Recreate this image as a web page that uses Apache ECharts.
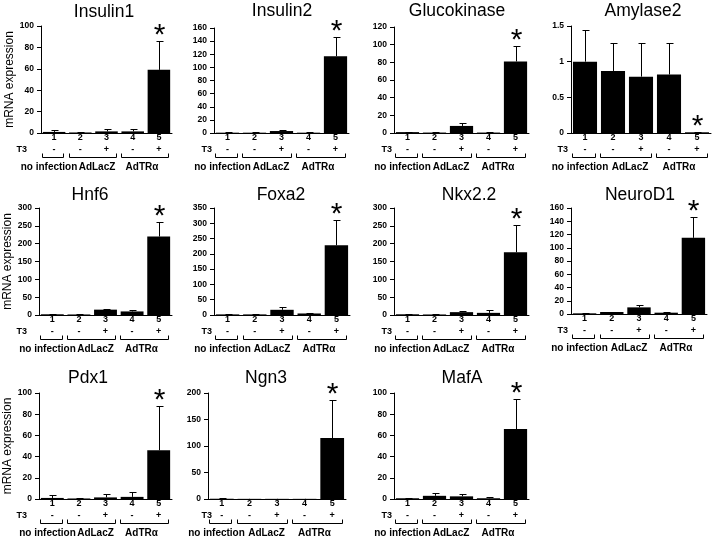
<!DOCTYPE html>
<html>
<head>
<meta charset="utf-8">
<script src="https://cdn.jsdelivr.net/npm/echarts@6/dist/echarts.min.js"></script>
<style>
  html, body { margin: 0; padding: 0; background: #fff; }
  #chart { width: 713px; height: 537px; }
</style>
</head>
<body>
<div id="chart"></div>
<script>
const categories = ['1', '2', '3', '4', '5'];
const t3Signs = ['-', '-', '+', '-', '+'];
const groupNames = ['no infection', 'AdLacZ', 'AdTRα'];
const groupStart = [0, 1, 3];
const groupEnd = [0, 2, 4];
const starred = [false, false, false, false, true];

const geneNames = ['Insulin1', 'Insulin2', 'Glucokinase', 'Amylase2', 'Hnf6', 'Foxa2',
  'Nkx2.2', 'NeuroD1', 'Pdx1', 'Ngn3', 'MafA'];
const yMax = [100, 160, 120, 1.5, 300, 350, 300, 160, 100, 200, 100];
const yStep = [20, 20, 20, 0.5, 50, 50, 50, 20, 20, 50, 20];

const insulin1Mean = [1, 0.5, 1.5, 1.5, 59];
const insulin1Err = [1.5, 0.4, 2.5, 2, 27];
const insulin2Mean = [0.5, 0.5, 3, 0.5, 117];
const insulin2Err = [0.4, 0.3, 1.5, 0.3, 30];
const glucokinaseMean = [1, 0.5, 8, 0.5, 81];
const glucokinaseErr = [0.5, 0.3, 3.5, 0.3, 18];
const amylase2Mean = [1.0, 0.87, 0.79, 0.82, 0.01];
const amylase2Err = [0.45, 0.39, 0.47, 0.44, 0];
const hnf6Mean = [2, 1.5, 15, 10, 220];
const hnf6Err = [0.5, 0.5, 2, 3, 42];
const foxa2Mean = [2, 2, 17, 5, 228];
const foxa2Err = [0.5, 0.5, 9, 2, 84];
const nkx22Mean = [2, 1.5, 8, 6, 176];
const nkx22Err = [0.5, 0.5, 4, 8, 75];
const neuroD1Mean = [1, 3, 10, 2, 115];
const neuroD1Err = [0.3, 0.5, 3, 1, 32];
const pdx1Mean = [1, 0.5, 1.5, 2, 46];
const pdx1Err = [3, 0.3, 3, 4.5, 42];
const ngn3Mean = [0.5, 0.3, 0.3, 0.3, 115];
const ngn3Err = [1, 0.2, 0.2, 0.2, 72];
const mafAMean = [0.7, 3, 2.5, 0.7, 66];
const mafAErr = [0.5, 2.5, 2, 0.8, 28];

const meanSets = [insulin1Mean, insulin2Mean, glucokinaseMean, amylase2Mean, hnf6Mean, foxa2Mean,
  nkx22Mean, neuroD1Mean, pdx1Mean, ngn3Mean, mafAMean];
const errSets = [insulin1Err, insulin2Err, glucokinaseErr, amylase2Err, hnf6Err, foxa2Err,
  nkx22Err, neuroD1Err, pdx1Err, ngn3Err, mafAErr];

// pixel boxes of each small panel (plot area), title centre and "T3" right edge
const panelBoxes = [
  { left: 41, top: 26, right: 172, bottom: 133, titleX: 104, titleY: 12, t3X: 27 },
  { left: 214, top: 28, right: 349, bottom: 133, titleX: 282, titleY: 11, t3X: 212 },
  { left: 394, top: 27, right: 529, bottom: 133, titleX: 457, titleY: 11, t3X: 392 },
  { left: 571, top: 26, right: 711, bottom: 133, titleX: 643, titleY: 11, t3X: 568 },
  { left: 39, top: 208, right: 172, bottom: 315, titleX: 90, titleY: 195, t3X: 27 },
  { left: 214, top: 208, right: 350, bottom: 315, titleX: 281, titleY: 195, t3X: 212 },
  { left: 394, top: 208, right: 529, bottom: 315, titleX: 469, titleY: 195, t3X: 392 },
  { left: 571, top: 208, right: 707, bottom: 314, titleX: 640, titleY: 195, t3X: 568 },
  { left: 39, top: 393, right: 172, bottom: 499, titleX: 88, titleY: 378, t3X: 27 },
  { left: 208, top: 393, right: 346, bottom: 499, titleX: 266, titleY: 378, t3X: 212 },
  { left: 394, top: 393, right: 529, bottom: 499, titleX: 462, titleY: 378, t3X: 392 },
];
const yNamePanels = [0, 4, 8];
// horizontal nudge of each group label from its bracket centre, in px
const groupLabelShift = [-4, 4, -3];

const FONT = '"Liberation Sans", Arial, sans-serif';

const grids = [];
const xAxes = [];
const yAxes = [];
const series = [];
const graphics = [];

geneNames.forEach((gene, i) => {
  const box = panelBoxes[i];
  grids.push({
    left: box.left,
    top: box.top,
    width: box.right - box.left,
    height: box.bottom - box.top,
    containLabel: false,
  });
  xAxes.push({
    type: 'category',
    gridIndex: i,
    data: categories,
    axisLine: { lineStyle: { color: '#000', width: 1 } },
    axisTick: { show: false },
    axisLabel: {
      interval: 0,
      margin: -1,
      color: '#000',
      fontFamily: FONT,
      fontWeight: 'bold',
      fontSize: 9,
      lineHeight: 12,
      formatter: (value, idx) => value + '\n' + t3Signs[idx],
    },
  });
  yAxes.push({
    type: 'value',
    gridIndex: i,
    min: 0,
    max: yMax[i],
    interval: yStep[i],
    name: yNamePanels.includes(i) ? 'mRNA expression' : '',
    nameLocation: 'middle',
    nameRotate: 90,
    nameGap: 25,
    nameTextStyle: { color: '#000', fontFamily: FONT, fontSize: 12 },
    axisLine: { show: true, lineStyle: { color: '#000', width: 1 } },
    axisTick: { show: true, length: 4, lineStyle: { color: '#000' } },
    splitLine: { show: false },
    axisLabel: {
      color: '#000',
      fontFamily: FONT,
      fontWeight: 'bold',
      fontSize: 8.5,
      margin: 7,
    },
  });

  series.push({
    type: 'bar',
    xAxisIndex: i,
    yAxisIndex: i,
    data: meanSets[i],
    barCategoryGap: '14%',
    itemStyle: { color: '#000' },
    silent: true,
  });

  series.push({
    type: 'custom',
    xAxisIndex: i,
    yAxisIndex: i,
    clip: false,
    z: 5,
    silent: true,
    encode: { x: 0, y: 1 },
    data: meanSets[i].map((m, k) => [k, m, errSets[i][k]]),
    renderItem: (params, api) => {
      const k = api.value(0);
      const base = api.coord([k, api.value(1)]);
      const top = api.coord([k, api.value(1) + api.value(2)]);
      const x = Math.round(base[0]) + 0.5;
      const yTop = Math.round(top[1]) + 0.5;
      const children = [
        { type: 'line', shape: { x1: x, y1: base[1], x2: x, y2: yTop }, style: { stroke: '#000', lineWidth: 1 } },
        { type: 'line', shape: { x1: x - 3, y1: yTop, x2: x + 4, y2: yTop }, style: { stroke: '#000', lineWidth: 1 } },
      ];
      if (starred[k]) {
        children.push({
          type: 'text',
          x: x,
          y: yTop - 6,
          style: {
            text: '*',
            align: 'center',
            verticalAlign: 'middle',
            fontFamily: FONT,
            fontSize: 30,
            fill: '#000',
          },
        });
      }
      return { type: 'group', children };
    },
  });

  series.push({
    type: 'custom',
    xAxisIndex: i,
    yAxisIndex: i,
    clip: false,
    silent: true,
    encode: { x: 0, y: 1 },
    data: groupStart.map((s, g) => [s, 0, groupEnd[g], g]),
    renderItem: (params, api) => {
      const g = api.value(3);
      const band = api.size([1, 0])[0];
      const p0 = api.coord([api.value(0), 0]);
      const p1 = api.coord([api.value(2), 0]);
      const x1 = Math.round(p0[0] - 0.45 * band) + 0.5;
      const x2 = Math.round(p1[0] + 0.35 * band) + 0.5;
      const y = Math.round(p0[1] + 24) + 0.5;
      return {
        type: 'group',
        children: [
          {
            type: 'polyline',
            shape: { points: [[x1, y - 4], [x1, y], [x2, y], [x2, y - 4]] },
            style: { stroke: '#000', fill: null, lineWidth: 1 },
          },
          {
            type: 'text',
            x: (x1 + x2) / 2 + groupLabelShift[g],
            y: y + 10,
            style: {
              text: groupNames[g],
              align: 'center',
              verticalAlign: 'middle',
              fontFamily: FONT,
              fontWeight: 'bold',
              fontSize: 10,
              fill: '#000',
            },
          },
        ],
      };
    },
  });

  graphics.push({
    type: 'text',
    x: box.titleX,
    y: box.titleY,
    style: {
      text: gene,
      align: 'center',
      verticalAlign: 'middle',
      fontFamily: FONT,
      fontSize: 17.5,
      fill: '#000',
    },
  });
  graphics.push({
    type: 'text',
    x: box.t3X,
    y: box.bottom + 16.5,
    style: {
      text: 'T3',
      align: 'right',
      verticalAlign: 'middle',
      fontFamily: FONT,
      fontWeight: 'bold',
      fontSize: 9,
      fill: '#000',
    },
  });
});

const chart = echarts.init(document.getElementById('chart'));
chart.setOption({
  animation: false,
  backgroundColor: '#fff',
  grid: grids,
  xAxis: xAxes,
  yAxis: yAxes,
  series: series,
  graphic: graphics,
});
</script>
</body>
</html>
